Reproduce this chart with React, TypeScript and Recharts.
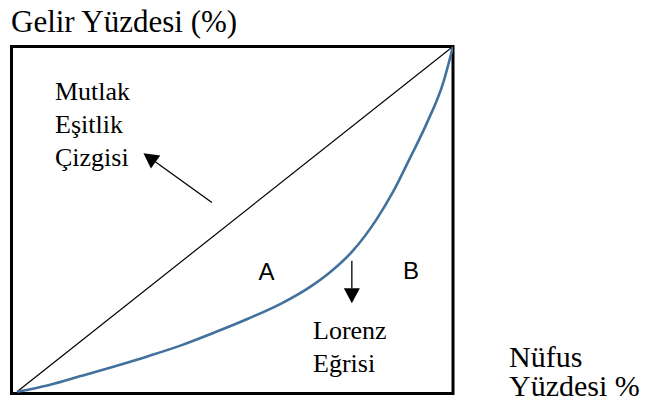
import React from 'react';
import { LineChart, Line, XAxis, YAxis, ReferenceArea, ReferenceLine } from 'recharts';

// Cumulative population share (%) and income share (%) along the Lorenz curve
const populationShare = [0, 7.2, 14.8, 22.5, 30.1, 37.8, 45.4, 53.1, 60.7, 66.8, 71.8, 76.8, 82.5, 86.3, 90.1, 94.0, 97.8, 100];
const incomeShare = [0, 1.9, 4.6, 7.4, 10.3, 13.5, 17.2, 21.2, 25.6, 30.0, 34.6, 40.5, 50.0, 58.0, 67.6, 77.8, 89.7, 100];

// Line of perfect equality
const equalityPopulation = [0, 100];
const equalityIncome = [0, 100];

// Annotation arrows (data coordinates: [tail, tip])
const equalityArrowX = [44.7, 29.0];
const equalityArrowY = [54.8, 69.1];
const lorenzArrowX = [76.8, 76.8];
const lorenzArrowY = [37.9, 25.6];

const xDomain: [number, number] = [-1.26, 100];
const yDomain: [number, number] = [-0.52, 100];

const lorenzData = populationShare.map((x, i) => ({ x, y: incomeShare[i] }));
const equalityData = equalityPopulation.map((x, i) => ({ x, y: equalityIncome[i] }));

const ArrowShape = (props: any) => {
  const { x1, y1, x2, y2 } = props;
  const dx = x2 - x1;
  const dy = y2 - y1;
  const len = Math.hypot(dx, dy) || 1;
  const ux = dx / len;
  const uy = dy / len;
  const hl = 15;
  const hw = 8;
  const bx = x2 - ux * hl;
  const by = y2 - uy * hl;
  const px = -uy;
  const py = ux;
  return (
    <g>
      <line x1={x1} y1={y1} x2={bx} y2={by} stroke="#000" strokeWidth={1.3} />
      <polygon
        points={`${x2},${y2} ${bx + px * hw},${by + py * hw} ${bx - px * hw},${by - py * hw}`}
        fill="#000"
      />
    </g>
  );
};

const serif = '"Liberation Serif", "Times New Roman", serif';
const sans = '"Liberation Sans", Arial, sans-serif';

export default function App() {
  return (
    <div style={{ position: 'absolute', left: 0, top: 0, width: 647, height: 417, background: '#fff' }}>
      <LineChart
        width={647}
        height={417}
        margin={{ top: 46.5, right: 194, bottom: 23.5, left: 11.5 }}
      >
        <XAxis type="number" dataKey="x" domain={xDomain} hide allowDataOverflow />
        <YAxis type="number" dataKey="y" domain={yDomain} hide allowDataOverflow />
        <ReferenceArea
          x1={xDomain[0]}
          x2={xDomain[1]}
          y1={yDomain[0]}
          y2={yDomain[1]}
          fill="none"
          fillOpacity={0}
          stroke="#000"
          strokeWidth={3}
        />
        <Line
          data={equalityData}
          dataKey="y"
          type="linear"
          stroke="#000"
          strokeWidth={1.2}
          dot={false}
          activeDot={false}
          isAnimationActive={false}
        />
        <Line
          data={lorenzData}
          dataKey="y"
          type="monotone"
          stroke="#41719c"
          strokeWidth={2.6}
          dot={false}
          activeDot={false}
          isAnimationActive={false}
        />
        <ReferenceLine
          segment={[
            { x: equalityArrowX[0], y: equalityArrowY[0] },
            { x: equalityArrowX[1], y: equalityArrowY[1] },
          ]}
          shape={ArrowShape}
        />
        <ReferenceLine
          segment={[
            { x: lorenzArrowX[0], y: lorenzArrowY[0] },
            { x: lorenzArrowX[1], y: lorenzArrowY[1] },
          ]}
          shape={ArrowShape}
        />
        <text x={11} y={32} fontFamily={serif} fontSize={31} fill="#000">Gelir Yüzdesi (%)</text>
        <text x={55} y={100} fontFamily={serif} fontSize={26} fill="#000">Mutlak</text>
        <text x={55} y={133} fontFamily={serif} fontSize={26} fill="#000">Eşitlik</text>
        <text x={55} y={166} fontFamily={serif} fontSize={26} fill="#000">Çizgisi</text>
        <text x={266.5} y={280} textAnchor="middle" fontFamily={sans} fontSize={24} fill="#000">A</text>
        <text x={411} y={279} textAnchor="middle" fontFamily={sans} fontSize={24} fill="#000">B</text>
        <text x={313} y={339} fontFamily={serif} fontSize={26} fill="#000">Lorenz</text>
        <text x={313} y={372} fontFamily={serif} fontSize={26} fill="#000">Eğrisi</text>
        <text x={509} y={367} fontFamily={serif} fontSize={30} fill="#000">Nüfus</text>
        <text x={509} y={396} fontFamily={serif} fontSize={30} fill="#000">Yüzdesi %</text>
      </LineChart>
    </div>
  );
}
